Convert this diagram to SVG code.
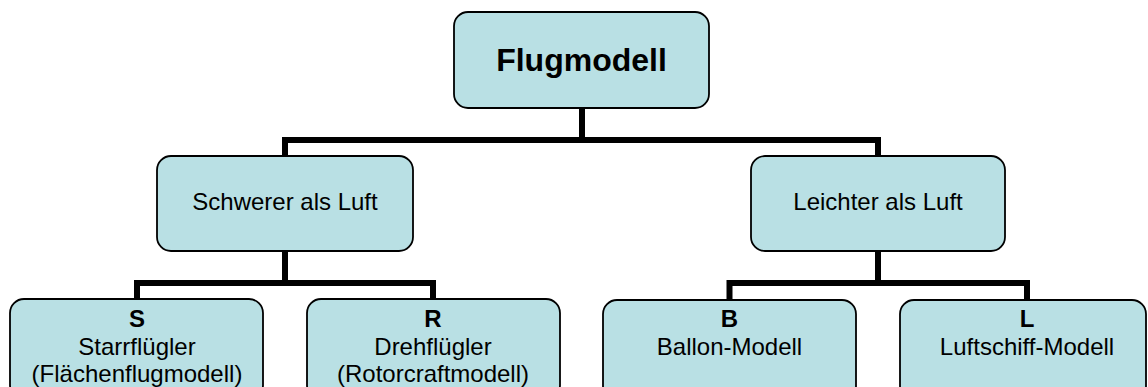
<svg xmlns="http://www.w3.org/2000/svg" width="1148" height="387" viewBox="0 0 1148 387">
<style>
.box{fill:#B9E0E4;stroke:#000;stroke-width:1.8}
.t{font-family:"Liberation Sans",Arial,sans-serif;font-size:24px;fill:#000;text-anchor:middle}
.b{font-weight:bold}
.big{font-size:32px;font-weight:bold}
.con{fill:none;stroke:#000;stroke-width:6;stroke-linejoin:miter;stroke-linecap:butt}
</style>
<rect width="1148" height="387" fill="#fff"/>
<g id="connectors">
<path class="con" d="M582 108V140M285 156V140H878V156"/>
<path class="con" d="M285 251V283M137 299V283H433V299"/>
<path class="con" d="M878 251V283M729.5 300V283H1027V300"/>
</g>
<g id="flugmodell">
<rect class="box" x="454" y="12" width="255" height="96" rx="14"/>
<text class="t big" x="581.5" y="71">Flugmodell</text>
</g>
<g id="schwerer">
<rect class="box" x="157" y="156" width="256" height="95" rx="14"/>
<text class="t" x="285" y="210">Schwerer als Luft</text>
</g>
<g id="leichter">
<rect class="box" x="751" y="156" width="254" height="95" rx="14"/>
<text class="t" x="878" y="210">Leichter als Luft</text>
</g>
<g id="starr">
<rect class="box" x="10" y="299" width="253" height="100" rx="14"/>
<text class="t b" x="137" y="326.5">S</text>
<text class="t" x="137" y="354.5">Starrflügler</text>
<text class="t" x="137" y="382">(Flächenflugmodell)</text>
</g>
<g id="dreh">
<rect class="box" x="307" y="299" width="253" height="100" rx="14"/>
<text class="t b" x="433" y="326.5">R</text>
<text class="t" x="433" y="354.5">Drehflügler</text>
<text class="t" x="433" y="382">(Rotorcraftmodell)</text>
</g>
<g id="ballon">
<rect class="box" x="603" y="300" width="253" height="100" rx="14"/>
<text class="t b" x="729.5" y="327">B</text>
<text class="t" x="729.5" y="355">Ballon-Modell</text>
</g>
<g id="luftschiff">
<rect class="box" x="900" y="300" width="246" height="100" rx="14"/>
<text class="t b" x="1027" y="327">L</text>
<text class="t" x="1027" y="355">Luftschiff-Modell</text>
</g>
</svg>
